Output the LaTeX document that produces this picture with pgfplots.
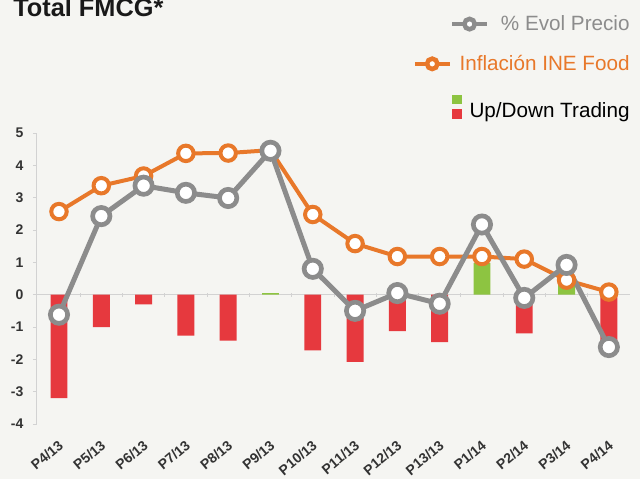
\documentclass[border=0pt]{standalone}
\usepackage{pgfplots}
\pgfplotsset{compat=1.18}
\usepackage{fontspec}
\setmainfont{Liberation Sans}
\definecolor{bg}{HTML}{F5F5F2}
\definecolor{grayline}{HTML}{8C8C8C}
\definecolor{orangeline}{HTML}{E8782A}
\definecolor{redbar}{HTML}{E6393E}
\definecolor{greenbar}{HTML}{8DC441}
\definecolor{axisgray}{HTML}{D2D2D2}
\definecolor{labelgray}{HTML}{333333}
\begin{document}
\begin{tikzpicture}
\fill[bg] (0pt,0pt) rectangle (480pt,359.25pt);
\useasboundingbox (0pt,0pt) rectangle (480pt,359.25pt);
\node[anchor=base west, font=\fontsize{19}{22}\selectfont\bfseries, text=black!90, inner sep=0pt] at (9.75pt,346.5pt) {Total FMCG*};
\begin{axis}[
  at={(27.75pt,41.25pt)}, anchor=south west,
  scale only axis, width=444.75pt, height=218.25pt,
  xmin=-0.52, xmax=13.5, ymin=-4, ymax=5,
  axis lines*=left,
  x axis line style={draw=none},
  y axis line style={draw=axisgray, line width=0.75pt, -},
  xtick={0,...,13},
  xticklabels={P4/13,P5/13,P6/13,P7/13,P8/13,P9/13,P10/13,P11/13,P12/13,P13/13,P1/14,P2/14,P3/14,P4/14},
  xtick style={draw=none},
  ytick={-4,...,5},
  yticklabels={-4,-3,-2,-1,0,1,2,3,4,5},
  ytick style={draw=axisgray, line width=0.6pt},
  tick align=outside, major tick length=3pt,
  yticklabel style={font=\fontsize{10.5}{12}\selectfont\bfseries, text=labelgray, inner sep=0pt, xshift=-7pt},
  xticklabel style={font=\fontsize{10.5}{12}\selectfont\bfseries, text=labelgray, xshift=-1pt, yshift=-8.5pt, rotate=40, anchor=north east, inner sep=0pt},
  clip=false,
  legend cell align=right,
  legend style={at={(1.002,1.409)}, anchor=north east, draw=none, fill=none, inner sep=0pt,
    row sep=15pt, column sep=5pt, nodes={inner sep=1pt, font=\fontsize{15.5}{18}\selectfont}},
]
\draw[axisgray, line width=0.6pt] (axis cs:-0.52,0) -- (axis cs:13.5,0);
\pgfplotsinvokeforeach{0.5,1.5,2.5,3.5,4.5,5.5,6.5,7.5,8.5,9.5,10.5,11.5,12.5}{
  \draw[axisgray, line width=0.6pt] (axis cs:#1,0) ++(0pt,-1.5pt) -- ++(0pt,3pt);
}
\addplot[forget plot, ybar, bar width=0.4, bar shift=0pt, fill=redbar, draw=none]
  coordinates {(0,-3.2) (1,-1.0) (2,-0.3) (3,-1.27) (4,-1.42) (6,-1.72) (7,-2.08) (8,-1.13) (9,-1.47) (11,-1.2) (13,-1.7)};
\addplot[forget plot, ybar, bar width=0.4, bar shift=0pt, fill=greenbar, draw=none]
  coordinates {(5,0.05) (10,0.98) (12,0.45)};
\addplot[forget plot, orangeline, line width=3pt, mark=*, mark size=5.8pt,
  mark options={fill=white, draw=orangeline, line width=3pt}]
  coordinates {(0,2.57) (1,3.37) (2,3.67) (3,4.37) (4,4.38) (5,4.47) (6,2.48) (7,1.58) (8,1.18) (9,1.18) (10,1.18) (11,1.1) (12,0.45) (13,0.08)};
\addplot[forget plot, grayline, line width=3.75pt, mark=*, mark size=6.5pt,
  mark options={fill=white, draw=grayline, line width=3.5pt}]
  coordinates {(0,-0.62) (1,2.43) (2,3.37) (3,3.15) (4,2.99) (5,4.45) (6,0.8) (7,-0.5) (8,0.05) (9,-0.28) (10,2.17) (11,-0.1) (12,0.92) (13,-1.62)};
\addlegendimage{legend image code/.code={
  \draw[overlay, grayline, line width=3pt] (28pt,0pt) -- (54pt,0pt);
  \draw[overlay, grayline, line width=3.4pt, fill=white] (41pt,0pt) circle (3.9pt);
}}
\addlegendentry{\textcolor{grayline}{\% Evol Precio}}
\addlegendimage{legend image code/.code={
  \draw[orangeline, line width=3pt] (0pt,0pt) -- (26pt,0pt);
  \draw[orangeline, line width=3.4pt, fill=white] (13pt,0pt) circle (3.9pt);
}}
\addlegendentry{\textcolor{orangeline}{Inflación INE Food}}
\addlegendimage{legend image code/.code={
  \fill[overlay, greenbar] (28pt,3.4pt) rectangle (34.75pt,9.4pt);
  \fill[overlay, redbar] (28pt,-7.9pt) rectangle (34.75pt,-1.1pt);
}}
\addlegendentry{\rule{0pt}{17pt}Up/Down Trading}
\end{axis}
\end{tikzpicture}
\end{document}
